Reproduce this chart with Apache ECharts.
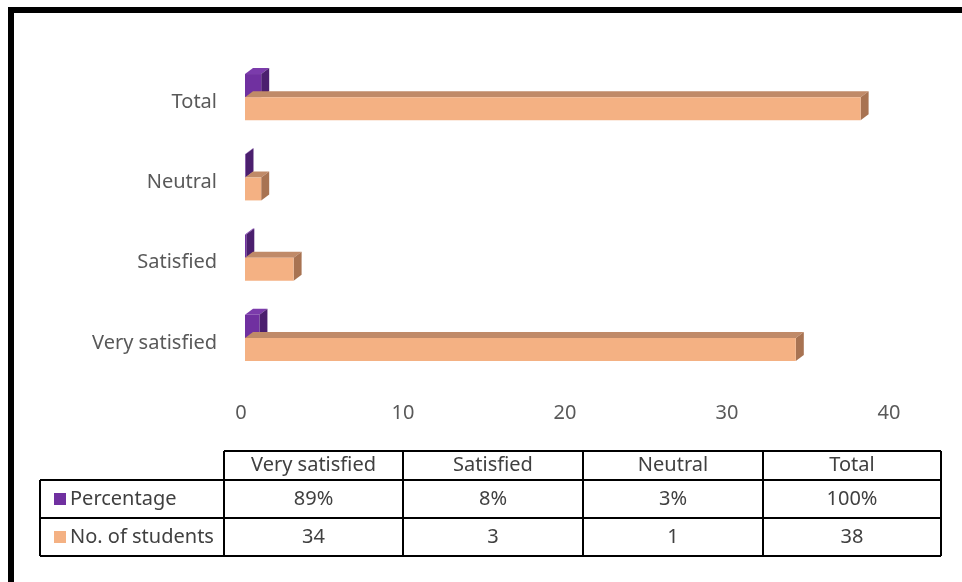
<!DOCTYPE html>
<html>
<head>
<meta charset="utf-8">
<script src="https://cdn.jsdelivr.net/npm/echarts@6/dist/echarts.min.js"></script>
<style>
  html, body { margin: 0; padding: 0; background: #fff; }
  #main { width: 962px; height: 582px; }
</style>
</head>
<body>
<div id="main"></div>
<script>
// data
var categories = ['Very satisfied', 'Satisfied', 'Neutral', 'Total'];
var percentage = [0.89, 0.08, 0.03, 1.0];
var students = [34, 3, 1, 38];
var seriesNames = ['Percentage', 'No. of students'];
var xTicks = [0, 10, 20, 30, 40];

var FONT = '"Noto Sans", sans-serif';
var textColor = '#595959';

// 3D-looking bar: front face + top face + side face
// from/to = vertical span of the front face as a fraction of the band, relative to band centre
function makeBar(from, to, colors) {
  return function (params, api) {
    var cat = api.value(1);
    var p0 = api.coord([0, cat]);
    var p1 = api.coord([api.value(0), cat]);
    var band = api.size([0, 1])[1];
    var x0 = p0[0] + 4, x1 = p1[0] + 4;
    var y0 = p0[1] + band * from, y1 = p0[1] + band * to;
    var dx = 8, dy = -6;
    return {
      type: 'group',
      children: [
        { type: 'polygon', shape: { points: [[x0, y0], [x0 + dx, y0 + dy], [x1 + dx, y0 + dy], [x1, y0]] },
          style: { fill: colors[1] } },
        { type: 'polygon', shape: { points: [[x1, y0], [x1 + dx, y0 + dy], [x1 + dx, y1 + dy], [x1, y1]] },
          style: { fill: colors[2] } },
        { type: 'rect', shape: { x: x0, y: y0, width: Math.max(x1 - x0, 0), height: y1 - y0 },
          style: { fill: colors[0] } }
      ]
    };
  };
}

var pctData = percentage.map(function (v, i) { return [v, i]; });
var stuData = students.map(function (v, i) { return [v, i]; });

// data table under the chart
var colX = [224, 403, 583, 763, 941];
var rowY = [451, 480, 518, 556];
var tableLeft = 40;
var graphics = [];
function line(x1, y1, x2, y2, w) {
  graphics.push({ type: 'line', shape: { x1: x1, y1: y1, x2: x2, y2: y2 },
    style: { stroke: '#000', lineWidth: w || 2 }, silent: true });
}
function text(x, y, s, align) {
  graphics.push({ type: 'text', x: x, y: y,
    style: { text: s, fill: '#404040', font: '20px ' + FONT, textAlign: align || 'center', textVerticalAlign: 'middle' } });
}
line(colX[0], rowY[0], colX[4], rowY[0]);
line(tableLeft, rowY[1], colX[4], rowY[1]);
line(tableLeft, rowY[2], colX[4], rowY[2]);
line(tableLeft, rowY[3], colX[4], rowY[3]);
line(tableLeft, rowY[1], tableLeft, rowY[3]);
colX.forEach(function (x) { line(x, rowY[0], x, rowY[3]); });
categories.forEach(function (c, i) {
  var cx = (colX[i] + colX[i + 1]) / 2;
  text(cx, (rowY[0] + rowY[1]) / 2, c);
  text(cx, (rowY[1] + rowY[2]) / 2, Math.round(percentage[i] * 100) + '%');
  text(cx, (rowY[2] + rowY[3]) / 2, String(students[i]));
});
var keyColors = ['#7030A0', '#F4B183'];
seriesNames.forEach(function (n, r) {
  var cy = (rowY[r + 1] + rowY[r + 2]) / 2;
  graphics.push({ type: 'rect', shape: { x: 54, y: cy - 6, width: 12, height: 12 }, style: { fill: keyColors[r] } });
  text(70, cy, n, 'left');
});
// outer frame (top and left edges visible)
line(8, 10, 962, 10, 6);
line(11, 7, 11, 582, 6);

var chart = echarts.init(document.getElementById('main'), null, { renderer: 'canvas' });
chart.setOption({
  backgroundColor: '#fff',
  animation: false,
  grid: { left: 241, width: 648, top: 62, height: 321 },
  xAxis: {
    type: 'value', min: xTicks[0], max: xTicks[xTicks.length - 1], interval: 10,
    axisLine: { show: false }, axisTick: { show: false }, splitLine: { show: false },
    axisLabel: { color: textColor, fontSize: 20, fontFamily: FONT, margin: 20 }
  },
  yAxis: {
    type: 'category', data: categories,
    axisLine: { show: false }, axisTick: { show: false },
    axisLabel: { color: textColor, fontSize: 20, fontFamily: FONT, margin: 24 }
  },
  series: [
    { name: seriesNames[0], type: 'custom', data: pctData, encode: { x: 0, y: 1 },
      renderItem: makeBar(-0.35, -0.06, ['#7030A0', '#7B3BAB', '#4B1F6E']) },
    { name: seriesNames[1], type: 'custom', data: stuData, encode: { x: 0, y: 1 },
      renderItem: makeBar(-0.06, 0.225, ['#F4B183', '#C08A68', '#A87352']) }
  ],
  graphic: graphics
});
</script>
</body>
</html>
